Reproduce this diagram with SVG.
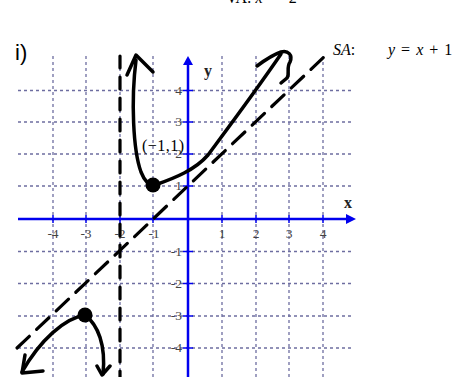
<svg xmlns="http://www.w3.org/2000/svg" width="476" height="377" viewBox="0 0 476 377">
<defs>
<style>
.grid{stroke:#6d6da0;stroke-width:1.3;stroke-dasharray:3 3;fill:none}
.axis{stroke:#0000ee;stroke-width:2.5;fill:none}
.tick{stroke:#0000ee;stroke-width:1.5}
.lbl{font-family:"Liberation Serif",serif;font-size:13.5px;fill:#444}
.ink{stroke:#000;stroke-width:3.5;fill:none;stroke-linecap:round;stroke-linejoin:round}
.asym{stroke:#000;stroke-width:3.2;fill:none;stroke-linecap:round}
.math{font-family:"Liberation Serif",serif;font-size:16px;fill:#000}
</style>
</defs>
<rect width="476" height="377" fill="#fff"/>
<text class="math" x="226" y="3" font-size="17">VA:   <tspan font-style="italic">x</tspan> = −2</text>
<text x="15" y="60" font-family="Liberation Sans, sans-serif" font-size="22" fill="#000">i)</text>
<text class="math" x="333" y="55"><tspan font-style="italic">SA</tspan>:</text>
<text class="math" x="388" y="55" word-spacing="2"><tspan font-style="italic">y</tspan> = <tspan font-style="italic">x</tspan> + 1</text>
<g id="grid">
<path class="grid" d="M53,56V377M86,56V377M120,56V377M153,56V377M222,56V377M256,56V377M289,56V377M323,56V377"/>
<path class="grid" d="M18,90.5H353M18,122H353M18,154H353M18,186H353M18,251.5H353M18,283.5H353M18,316H353M18,348H353"/>
</g>
<g id="axes">
<path class="axis" d="M188,62V377"/>
<path d="M183,65L188,56L193,65Z" fill="#0000ee"/>
<path class="axis" d="M18,219H348"/>
<path d="M346,214L356,219L346,224Z" fill="#0000ee"/>
<path class="tick" d="M53,215V223M86,215V223M120,215V223M153,215V223M222,215V223M256,215V223M289,215V223M323,215V223"/>
<path class="tick" d="M183,90.5H193M183,122H193M183,154H193M183,186H193M183,251.5H193M183,283.5H193M183,316H193M183,348H193"/>
<text x="204" y="76" font-family="Liberation Serif, serif" font-weight="bold" font-size="16" fill="#222">y</text>
<text x="344" y="208" font-family="Liberation Serif, serif" font-weight="bold" font-size="16" fill="#222">x</text>
</g>
<g id="tick-labels" class="lbl">
<text x="53" y="238" text-anchor="middle">-4</text>
<text x="86" y="238" text-anchor="middle">-3</text>
<text x="120" y="238" text-anchor="middle">-2</text>
<text x="154" y="238" text-anchor="middle">-1</text>
<text x="222" y="238" text-anchor="middle">1</text>
<text x="256" y="238" text-anchor="middle">2</text>
<text x="289" y="238" text-anchor="middle">3</text>
<text x="323" y="238" text-anchor="middle">4</text>
<text x="182" y="95" text-anchor="end">4</text>
<text x="182" y="126" text-anchor="end">3</text>
<text x="182" y="158" text-anchor="end">2</text>
<text x="182" y="190" text-anchor="end">1</text>
<text x="182" y="256" text-anchor="end">-1</text>
<text x="182" y="288" text-anchor="end">-2</text>
<text x="182" y="320" text-anchor="end">-3</text>
<text x="182" y="352" text-anchor="end">-4</text>
</g>
<g id="asymptotes">
<path class="asym" d="M120,56V377" stroke-dasharray="12 9"/>
<path class="asym" d="M17,348L324,57" stroke-dasharray="17 10"/>
</g>
<g id="right-branch">
<path class="ink" d="M136,60C131,100 133,150 141,172C145,182 149,186 155,185C175,178 195,170 208,155C225,132 255,92 281,54"/>
<path class="ink" d="M127,75L136,55L153,72"/>
<path class="ink" d="M257,66C265,60 272,55 281,52C288,50 293,55 290,62C286,68 290,74 287,78L281,83"/>
<circle cx="153" cy="185" r="7.5" fill="#000"/>
<text class="math" x="142" y="151" letter-spacing="0.5">(−1,1)</text>
</g>
<g id="left-branch">
<path class="ink" d="M85,315C65,318 40,340 22,372"/>
<path class="ink" d="M25,355L22,373L43,371"/>
<path class="ink" d="M85,315C98,325 106,345 103,374"/>
<path class="ink" d="M97,366L102,375L110,366"/>
<circle cx="85" cy="315" r="7.5" fill="#000"/>
</g>
</svg>
